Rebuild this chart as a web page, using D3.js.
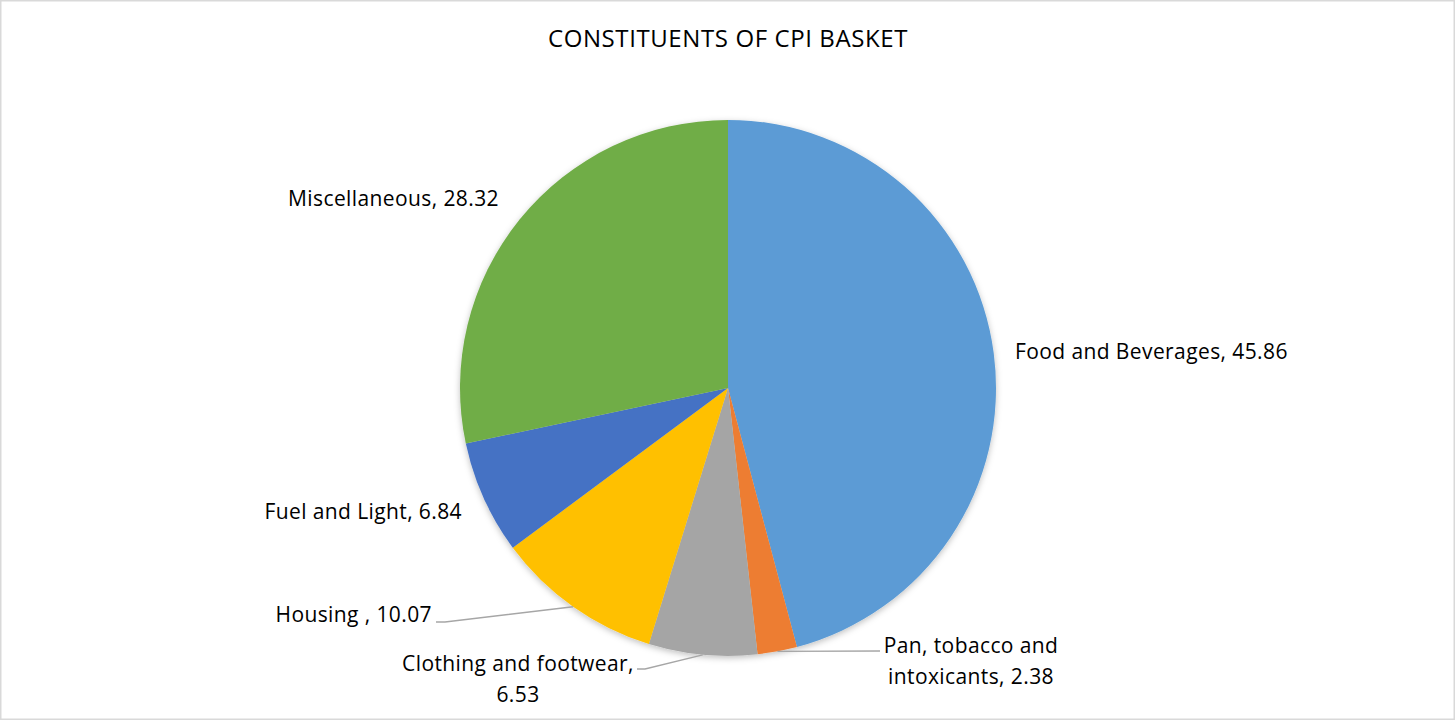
<!DOCTYPE html>
<html>
<head>
<meta charset="utf-8">
<script src="https://cdn.jsdelivr.net/npm/d3@7"></script>
<style>
  html, body { margin: 0; padding: 0; background: #fff; }
  svg { display: block; }
  text { font-family: "Open Sans", sans-serif; fill: #000; }
</style>
</head>
<body>
<svg id="chart" width="1456" height="721"></svg>
<script>
// ---- data ----
const categories = ["Food and Beverages", "Pan, tobacco and intoxicants", "Clothing and footwear", "Housing ", "Fuel and Light", "Miscellaneous"];
const values = [45.86, 2.38, 6.53, 10.07, 6.84, 28.32];
const valueLabels = ["45.86", "2.38", "6.53", "10.07", "6.84", "28.32"];
const title = "CONSTITUENTS OF CPI BASKET";

// ---- styling / layout ----
const colors = ["#5B9BD5", "#ED7D31", "#A5A5A5", "#FFC000", "#4472C4", "#70AD47"];
const W = 1456, H = 721;
const cx = 728, cy = 388, R = 268;
const labelLayout = [
  { lines: ["Food and Beverages, 45.86"], anchor: "start", x: 1015, y: 351, leader: null },
  { lines: ["Pan, tobacco and", "intoxicants, 2.38"], anchor: "middle", x: 971, y: 645, leader: { ex: 880, ey: 651 } },
  { lines: ["Clothing and footwear,", "6.53"], anchor: "middle", x: 518, y: 663, leader: { ex: 645, ey: 669, hx: 637 } },
  { lines: ["Housing , 10.07"], anchor: "end", x: 432, y: 614, leader: { ex: 445, ey: 622, hx: 436 } },
  { lines: ["Fuel and Light, 6.84"], anchor: "end", x: 462, y: 511, leader: null },
  { lines: ["Miscellaneous, 28.32"], anchor: "end", x: 499, y: 198, leader: null }
];

const svg = d3.select("#chart");

svg.append("rect").attr("x", 0.75).attr("y", 0.75).attr("width", W - 2.5).attr("height", H - 2.5)
  .attr("fill", "#fff").attr("stroke", "#d9d9d9").attr("stroke-width", 1.5);

const defs = svg.append("defs");
const f = defs.append("filter").attr("id", "shadow").attr("x", "-10%").attr("y", "-10%").attr("width", "120%").attr("height", "120%");
f.append("feDropShadow").attr("dx", 0).attr("dy", 2).attr("stdDeviation", 3).attr("flood-color", "#000").attr("flood-opacity", 0.25);

svg.append("text").attr("x", W / 2).attr("y", 37).attr("text-anchor", "middle")
  .attr("dominant-baseline", "central").attr("font-size", 24).attr("letter-spacing", 0.6).text(title);

const data = categories.map((c, i) => ({ name: c, value: values[i], label: valueLabels[i], color: colors[i], layout: labelLayout[i] }));

const pie = d3.pie().value(d => d.value).sort(null).startAngle(0).endAngle(2 * Math.PI);
const arc = d3.arc().innerRadius(0).outerRadius(R);
const arcs = pie(data);

const g = svg.append("g").attr("transform", `translate(${cx},${cy})`);
const slices = g.append("g").attr("filter", "url(#shadow)");
slices.selectAll("path").data(arcs).join("path")
  .attr("d", arc).attr("fill", d => d.data.color);

arcs.forEach(a => {
  const L = a.data.layout;
  if (!L.leader) return;
  const mid = (a.startAngle + a.endAngle) / 2;
  const px = cx + R * Math.sin(mid), py = cy - R * Math.cos(mid);
  const pts = [[px, py], [L.leader.ex, L.leader.ey]];
  if (L.leader.hx !== undefined) pts.push([L.leader.hx, L.leader.ey]);
  svg.append("path").attr("d", d3.line()(pts)).attr("fill", "none")
    .attr("stroke", "#a6a6a6").attr("stroke-width", 1.3);
});

arcs.forEach(a => {
  const L = a.data.layout;
  const t = svg.append("text").attr("text-anchor", L.anchor).attr("font-size", 21).attr("letter-spacing", 0.4);
  L.lines.forEach((ln, k) => {
    t.append("tspan").attr("x", L.x).attr("y", L.y + k * 31).attr("dominant-baseline", "central").text(ln);
  });
});
</script>
</body>
</html>
